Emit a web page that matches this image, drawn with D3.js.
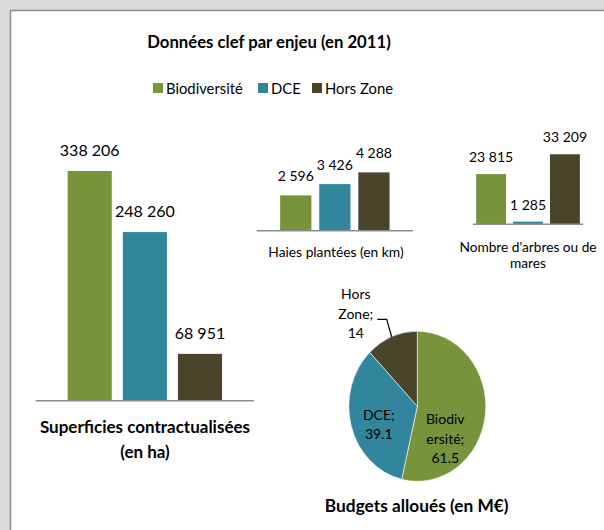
<!DOCTYPE html>
<html><head><meta charset="utf-8">
<script src="https://cdn.jsdelivr.net/npm/d3@7"></script>
<style>
html,body{margin:0;padding:0;background:#d9d9d9;}
svg{display:block;font-family:Lato,"Open Sans",sans-serif;}
</style></head>
<body>
<svg id="c" width="604" height="530"></svg>
<script>
// ---- data ----
const series = ["Biodiversité", "DCE", "Hors Zone"];
const colors = ["#77933c", "#31859c", "#4a452a"];
const superficies = [338206, 248260, 68951];
const haies = [2596, 3426, 4288];
const arbres = [23815, 1285, 33209];
const budgets = [61.5, 39.1, 14];
const budgetLabels = [["Biodiv", "ersité;", "61.5"], ["DCE;", "39.1"], ["Hors", "Zone;", "14"]];
const title = "Données clef par enjeu (en 2011)";

const fmt = v => d3.format(",")(v).replace(/,/g, " ");

const svg = d3.select("#c");
// panel
svg.append("rect").attr("x", 10.5).attr("y", 10.5).attr("width", 620).attr("height", 540)
  .attr("fill", "#fff").attr("stroke", "#8c8c8c").attr("stroke-width", 1.5);

svg.append("text").attr("x", 269).attr("y", 48).attr("text-anchor", "middle")
  .attr("font-size", 16.7).attr("font-weight", "bold").attr("fill", "#000").text(title);

// legend
const legendX = [153, 258, 312];
const lg = svg.append("g");
series.forEach((s, i) => {
  lg.append("rect").attr("x", legendX[i]).attr("y", 83).attr("width", 10).attr("height", 10).attr("fill", colors[i]);
  lg.append("text").attr("x", legendX[i] + 13).attr("y", 93.5).attr("font-size", 14.8).attr("fill", "#000").text(s);
});

function barChart(values, cfg) {
  const x = d3.scaleBand().domain(series).range([cfg.x0, cfg.x1])
    .paddingInner(cfg.pi).paddingOuter(cfg.po);
  const y = d3.scaleLinear().domain([0, cfg.max]).range([cfg.base, cfg.base - cfg.h]);
  const g = svg.append("g");
  g.selectAll("rect").data(values).join("rect")
    .attr("x", (d, i) => x(series[i])).attr("width", x.bandwidth())
    .attr("y", d => y(d)).attr("height", d => y(0) - y(d))
    .attr("fill", (d, i) => colors[i]);
  g.append("line").attr("x1", cfg.x0).attr("x2", cfg.x1).attr("y1", y(0)).attr("y2", y(0))
    .attr("stroke", "#8c8c8c").attr("stroke-width", 1.5);
  g.selectAll("text.v").data(values).join("text").attr("class", "v")
    .attr("x", (d, i) => x(series[i]) + x.bandwidth() / 2)
    .attr("y", d => y(d) - cfg.gap)
    .attr("text-anchor", "middle").attr("font-size", cfg.fs).attr("fill", "#000")
    .text(fmt);
  cfg.title.forEach((t, k) => {
    g.append("text").attr("x", cfg.tx).attr("y", cfg.ty + k * cfg.tl)
      .attr("text-anchor", "middle").attr("font-size", cfg.tfs)
      .attr("font-weight", cfg.bold ? "bold" : "normal").attr("fill", "#000").text(t);
  });
}

barChart(superficies, {x0: 35.7, x1: 254, pi: 0.2, po: 0.58, max: 400000, base: 400.7, h: 271.7,
  gap: 15, fs: 16, title: ["Superficies contractualisées", "(en ha)"], tx: 145, ty: 433, tl: 25, tfs: 17, bold: true});
barChart(haies, {x0: 256.7, x1: 413, pi: 0.2, po: 0.6, max: 5000, base: 230.7, h: 68,
  gap: 14, fs: 14, title: ["Haies plantées (en km)"], tx: 336, ty: 257, tl: 17, tfs: 13.8, bold: false});
barChart(arbres, {x0: 473, x1: 583, pi: 0.19, po: 0.085, max: 35000, base: 224.3, h: 73.8,
  gap: 12, fs: 14, title: ["Nombre d'arbres ou de", "mares"], tx: 528, ty: 251.7, tl: 16.7, tfs: 13.7, bold: false});

// pie
const cx = 417.3, cy = 406.3, r = 75, sx = 0.913;
const pie = d3.pie().sort(null)(budgets);
const arc = d3.arc().innerRadius(0).outerRadius(r);
const pg = svg.append("g").attr("transform", `translate(${cx},${cy}) scale(${sx},1)`);
pg.selectAll("path").data(pie).join("path").attr("d", arc)
  .attr("fill", (d, i) => colors[i]).attr("stroke", "#fff").attr("stroke-width", 0.6);

// label layout (offsets from centre, line spacing)
const labelPos = [{dx: 28, dy: 18, ls: 19.5}, {dx: -38.5, dy: 14, ls: 18.5}, {dx: -61.5, dy: -107, ls: 19.2}];
pie.forEach((p, i) => {
  const lp = labelPos[i];
  budgetLabels[i].forEach((t, k) => {
    svg.append("text").attr("x", cx + lp.dx).attr("y", cy + lp.dy + k * lp.ls)
      .attr("text-anchor", "middle").attr("font-size", 14).attr("fill", "#000").text(t);
  });
});
// leader line for Hors Zone
const hz = pie[2];
const edgeAng = (hz.startAngle + hz.endAngle) / 2;
const ex = cx + Math.sin(edgeAng) * r * sx, ey = cy - Math.cos(edgeAng) * r;
svg.append("path").attr("d", d3.line()([[377.3, 319.3], [386.7, 319.3], [ex, ey]]))
  .attr("fill", "none").attr("stroke", "#000").attr("stroke-width", 1.2);

svg.append("text").attr("x", 416.7).attr("y", 511.7).attr("text-anchor", "middle")
  .attr("font-size", 17.3).attr("font-weight", "bold").attr("fill", "#000").text("Budgets alloués (en M€)");
</script>
</body></html>
